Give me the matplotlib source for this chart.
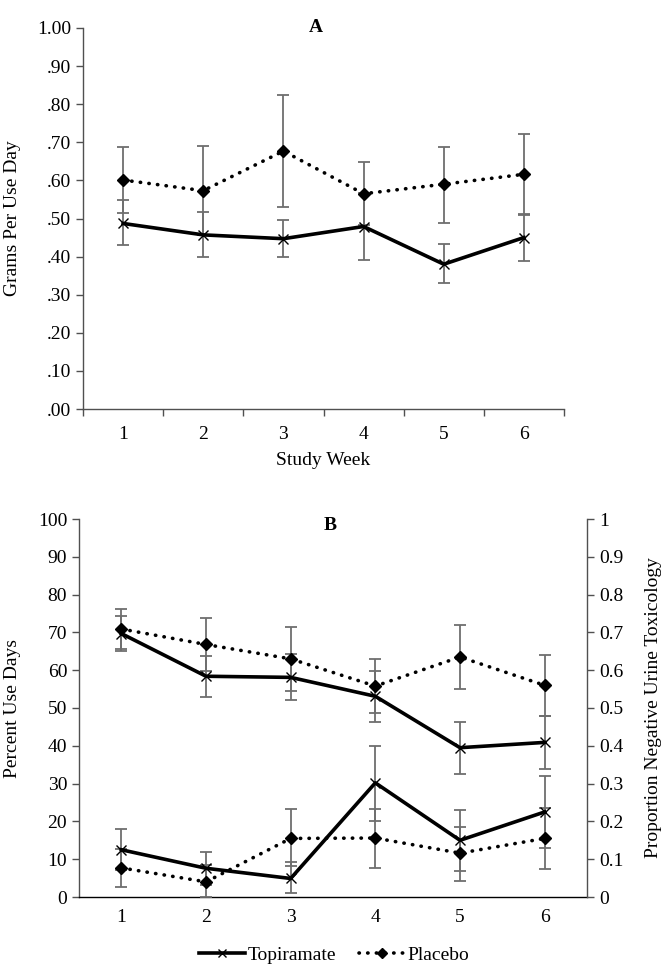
import matplotlib
matplotlib.use("Agg")
import matplotlib.pyplot as plt
from matplotlib.lines import Line2D
from matplotlib.ticker import FuncFormatter, FixedLocator

plt.rcParams['font.family'] = ['Liberation Serif', 'DejaVu Serif']

weeks = [1, 2, 3, 4, 5, 6]

# Panel A: grams per use day
topA = [0.487, 0.457, 0.447, 0.479, 0.380, 0.450]
topA_lo = [0.430, 0.400, 0.398, 0.391, 0.330, 0.388]
topA_hi = [0.548, 0.516, 0.496, 0.567, 0.432, 0.512]
plaA = [0.601, 0.573, 0.677, 0.565, 0.590, 0.616]
plaA_lo = [0.515, 0.456, 0.531, 0.483, 0.487, 0.510]
plaA_hi = [0.688, 0.690, 0.824, 0.647, 0.688, 0.722]

# Panel B: percent use days (left axis)
topPct = [69.7, 58.4, 58.1, 53.1, 39.5, 40.9]
topPct_lo = [65.2, 52.8, 52.0, 46.4, 32.5, 33.9]
topPct_hi = [74.4, 63.7, 64.2, 59.8, 46.3, 47.9]
plaPct = [70.9, 66.8, 63.0, 55.8, 63.5, 56.0]
plaPct_lo = [65.6, 59.8, 54.6, 48.6, 54.9, 48.0]
plaPct_hi = [76.2, 73.8, 71.4, 63.0, 71.9, 64.1]

# Panel B: proportion negative urine toxicology (right axis)
topTox = [0.125, 0.076, 0.049, 0.302, 0.150, 0.225]
topTox_lo = [0.071, 0.032, 0.010, 0.201, 0.069, 0.130]
topTox_hi = [0.179, 0.120, 0.092, 0.399, 0.230, 0.321]
plaTox = [0.077, 0.040, 0.155, 0.156, 0.116, 0.155]
plaTox_lo = [0.026, 0.000, 0.083, 0.076, 0.043, 0.075]
plaTox_hi = [0.128, 0.085, 0.232, 0.233, 0.185, 0.235]

FS = 14
SPINE = '#505050'
ERR = '#6e6e6e'
DOTS = (0, (0.1, 2.3))

fig = plt.figure(figsize=(6.67, 9.75), dpi=100)


def series(ax, y, lo, hi, kind):
    yerr = [[v - l for v, l in zip(y, lo)], [h - v for v, h in zip(y, hi)]]
    ax.errorbar(weeks, y, yerr=yerr, fmt='none', ecolor=ERR, elinewidth=1.3,
                capsize=4, capthick=1.3, zorder=2)
    if kind == 'top':
        ax.plot(weeks, y, color='black', lw=2.6, marker='x', ms=6.5, mew=1.0,
                zorder=3)
    else:
        ax.plot(weeks, y, color='black', lw=2.6, linestyle=DOTS,
                dash_capstyle='round', marker='D', ms=6, zorder=3)


def style(ax):
    for s in ['top', 'right']:
        ax.spines[s].set_visible(False)
    for s in ['left', 'bottom']:
        ax.spines[s].set_color(SPINE)
        ax.spines[s].set_linewidth(1.0)
    ax.tick_params(colors=SPINE, labelcolor='black', labelsize=FS,
                   direction='out', length=5, width=1.0)


# ---------------- Panel A ----------------
axA = fig.add_axes([83 / 667, 1 - 409 / 975, (564 - 83) / 667, (409 - 28) / 975])
series(axA, topA, topA_lo, topA_hi, 'top')
series(axA, plaA, plaA_lo, plaA_hi, 'pla')
axA.set_xlim(0.5, 6.5)
axA.set_ylim(0, 1.0)
style(axA)
axA.set_yticks([i / 10 for i in range(11)])
axA.yaxis.set_major_formatter(FuncFormatter(
    lambda v, p: '1.00' if v >= 0.999 else ('%.2f' % v)[1:]))
axA.set_xticks(weeks)
axA.set_xticklabels([str(w) for w in weeks])
axA.xaxis.set_minor_locator(FixedLocator([0.5 + i for i in range(7)]))
axA.tick_params(axis='x', which='major', length=0, pad=12)
axA.tick_params(axis='x', which='minor', length=5, width=1.0, colors=SPINE)
axA.set_xlabel('Study Week', fontsize=FS)
axA.xaxis.set_label_coords(0.5, -(452 - 409) / 381)
axA.set_ylabel('Grams Per Use Day', fontsize=FS)
axA.yaxis.set_label_coords(-(83 - 21) / 481, 0.5)
fig.text(316 / 667, 1 - 27 / 975, 'A', fontsize=FS, fontweight='bold',
         ha='center', va='center')

# ---------------- Panel B ----------------
axB = fig.add_axes([79 / 667, 1 - 897 / 975, (587 - 79) / 667, (897 - 519) / 975])
axR = axB.twinx()
series(axB, topPct, topPct_lo, topPct_hi, 'top')
series(axB, plaPct, plaPct_lo, plaPct_hi, 'pla')
series(axR, topTox, topTox_lo, topTox_hi, 'top')
series(axR, plaTox, plaTox_lo, plaTox_hi, 'pla')
axB.set_xlim(0.5, 6.5)
axB.set_ylim(0, 100)
axR.set_ylim(0, 1)
style(axB)
axB.set_yticks(range(0, 101, 10))
axB.set_xticks(weeks)
axB.set_xticklabels([str(w) for w in weeks])
axB.tick_params(axis='x', length=0, pad=9)
axB.spines['bottom'].set_color('black')
axR.spines['top'].set_visible(False)
axR.spines['left'].set_visible(False)
axR.spines['bottom'].set_visible(False)
axR.spines['right'].set_color(SPINE)
axR.spines['right'].set_linewidth(1.0)
axR.set_yticks([i / 10 for i in range(11)])
axR.yaxis.set_major_formatter(FuncFormatter(
    lambda v, p: '0' if v < 1e-9 else ('1' if v > 0.999 else '%.1f' % v)))
axR.tick_params(axis='y', colors=SPINE, labelcolor='black', labelsize=FS,
                direction='out', length=5, width=1.0)
axB.set_ylabel('Percent Use Days', fontsize=FS)
axB.yaxis.set_label_coords(-(79 - 21) / 508, 0.5)
axR.set_ylabel('Proportion Negative Urine Toxicology', fontsize=FS)
axR.yaxis.set_label_coords((645 - 79) / 508, 0.5)
fig.text(330 / 667, 1 - 525 / 975, 'B', fontsize=FS, fontweight='bold',
         ha='center', va='center')

# ---------------- Legend ----------------
h_top = Line2D([], [], color='black', lw=2.6, marker='x', ms=5.5, mew=1.0)
h_pla = Line2D([], [], color='black', lw=2.6, linestyle=DOTS,
               dash_capstyle='round', marker='D', ms=5)
fig.legend([h_top, h_pla], ['Topiramate', 'Placebo'], loc='center',
           bbox_to_anchor=(334 / 667, 1 - 955 / 975), ncol=2, frameon=False,
           fontsize=FS, handlelength=2.4, handletextpad=0.1, columnspacing=1.2)

fig.savefig('out.png', dpi=100)
